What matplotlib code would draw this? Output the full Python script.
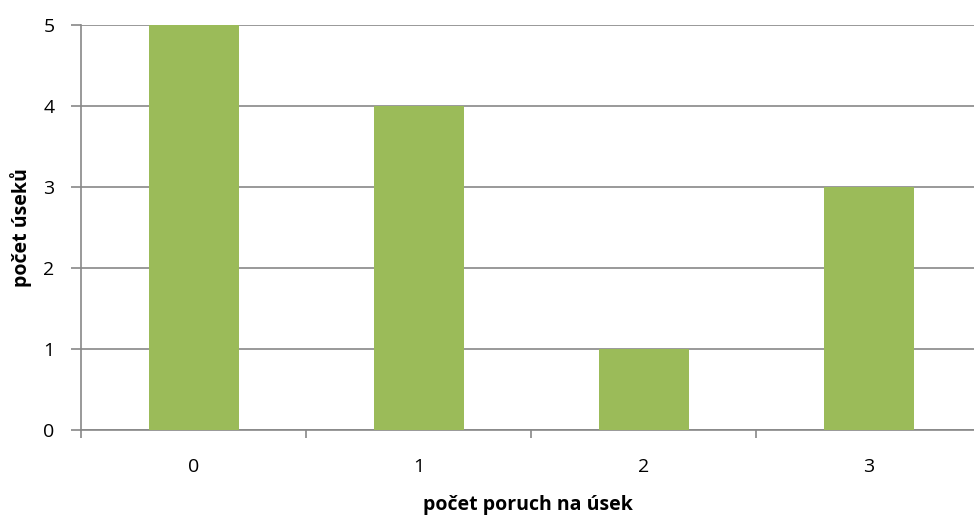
import matplotlib
matplotlib.use("Agg")
import matplotlib.pyplot as plt
import numpy as np

categories = ["0", "1", "2", "3"]
counts = [5, 4, 1, 3]
y_ticks = [0, 1, 2, 3, 4, 5]

plt.rcParams["font.family"] = ["Open Sans", "DejaVu Sans"]

fig = plt.figure(figsize=(9.74, 5.17), dpi=100)
ax = fig.add_axes([81 / 974, 1 - 430 / 517, (974 - 81) / 974, (430 - 25) / 517])

x = np.arange(len(categories))
ax.bar(x, counts, width=0.4, color="#9BBB59", zorder=3)

grid_color = "#888888"
ax.set_xlim(-0.5, -0.5 + (974 - 81) / 225)
ax.set_ylim(0, 5)
ax.set_yticks(y_ticks)
ax.set_yticklabels([str(v) for v in y_ticks], fontsize=14)
ax.yaxis.grid(True, color=grid_color, linewidth=1.2, zorder=0)

# boundary ticks between categories, labels centered under each bar
ax.set_xticks(np.arange(len(categories)) - 0.5)
ax.set_xticklabels([])
ax.set_xticks(x, minor=True)
ax.set_xticklabels(categories, minor=True, fontsize=14)
ax.tick_params(axis="x", which="minor", length=0, pad=20)
ax.tick_params(axis="x", which="major", length=6, width=1.2, color=grid_color)
ax.tick_params(axis="y", length=7, width=1.2, color=grid_color, pad=12)

for side in ("top", "right"):
    ax.spines[side].set_visible(False)
for side in ("left", "bottom"):
    ax.spines[side].set_color(grid_color)
    ax.spines[side].set_linewidth(1.2)

ax.set_xlabel("počet poruch na úsek", fontsize=14, fontweight="bold", labelpad=14)
ax.set_ylabel("počet úseků", fontsize=14, fontweight="bold", labelpad=8)

fig.savefig("out.png", dpi=100)
